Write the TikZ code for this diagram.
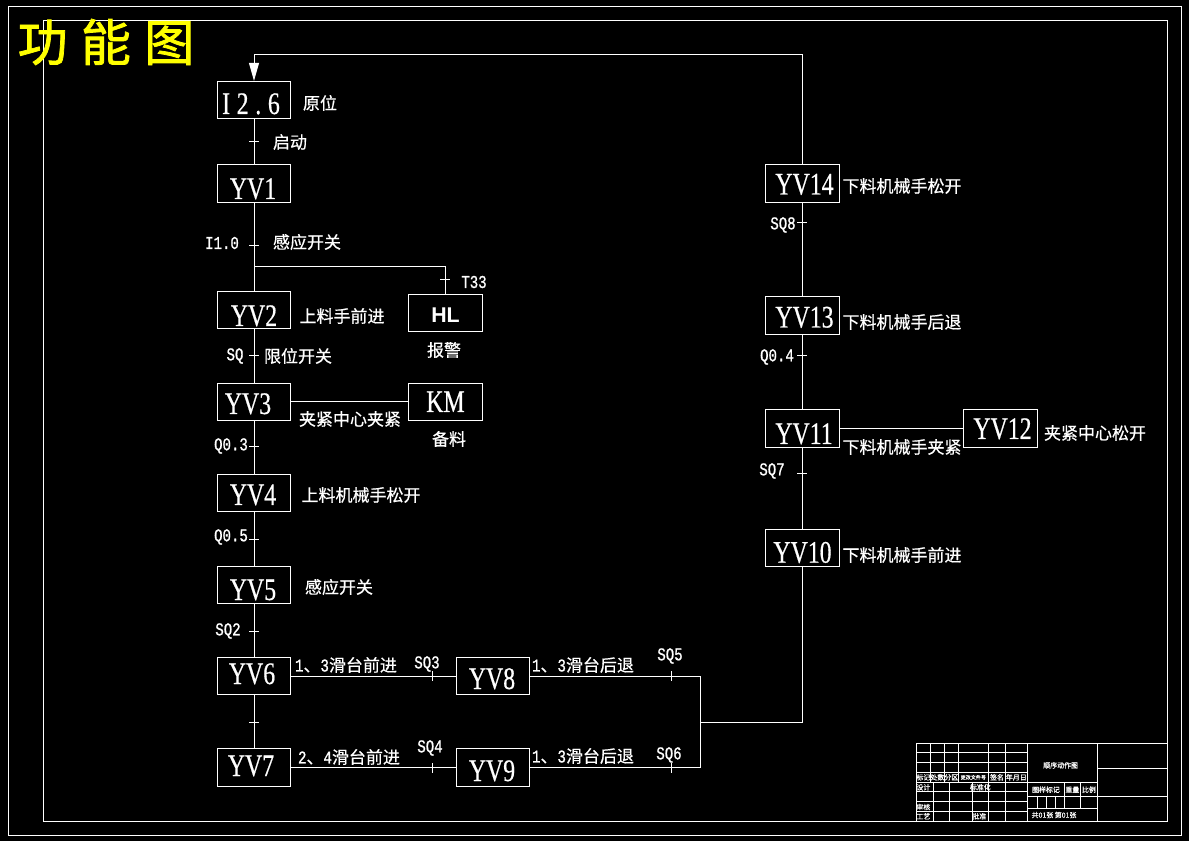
\documentclass[tikz,border=0pt]{standalone}
\usepackage{fontspec}
\usetikzlibrary{arrows.meta}
\setmainfont{Liberation Serif}
\newfontfamily\cjkfont[FakeBold=0.6]{Noto Sans CJK SC}
\newfontfamily\bigfont[FakeBold=1.5]{Noto Sans CJK SC}
\newfontfamily\stepfont[FakeStretch=0.76,FakeBold=0.5]{Liberation Serif}
\newfontfamily\signalfont[FakeStretch=0.78,Scale=1.06,FakeBold=1]{Liberation Mono}
\newfontfamily\lampfont{Liberation Sans}
\definecolor{sheet}{RGB}{0, 0, 0}
\definecolor{titleyellow}{RGB}{255, 255, 0}
\newlength{\px}
\setlength{\px}{0.75pt}
\newcommand{\boxtext}[3]{\raisebox{-#2\px}[0pt][0pt]{\makebox[0pt]{\hspace{#1\px}\hspace{#1\px}#3}}}
\newcommand{\sig}[1]{{\signalfont #1}}
\tikzset{
  wire/.style={draw=white, line width=0.75pt},
  stepbox/.style={rectangle, draw=white, line width=0.75pt, text=white, inner sep=0pt,
    minimum width=55pt, minimum height=28pt, font=\fontsize{23.5}{25}\stepfont},
  note/.style={text=white, inner sep=0pt, font=\fontsize{12.75}{15}\cjkfont},
  signal/.style={text=white, inner sep=0pt, font=\fontsize{12.75}{15}\signalfont},
  tiny/.style={text=white, inner sep=0pt, font=\fontsize{5.2}{6}\cjkfont},
}
\begin{document}
\begin{tikzpicture}[x=0.75pt, y=-0.75pt]
      \useasboundingbox[fill=sheet] (0,0) rectangle (1189,841);

      % Sheet frame
      \draw[wire] (8.5,6.5) rectangle (1181,835);
      \draw[wire] (43.5,20.5) rectangle (1167.5,821);
      \node[text=titleyellow, inner sep=0pt, font=\fontsize{37.5}{40}\bigfont] (title) at (106,42)
        {功\hspace{10pt}能\hspace{10pt}图};

      % Steps
      \foreach \name/\x/\y/\dx/\drop/\txt in {
        i26/254/100/-3/14/I\kern5pt 2\kern5pt .\kern5pt 6,
        yv1/254/183.5/-1/15.5/YV1,
        yv2/254/310/0/16/YV2,
        yv3/254/402/-6/12/YV3,
        yv4/254/493/-1/12/YV4,
        yv5/254/585/-1/15/YV5,
        yv6/254/676/-2/8/YV6,
        yv7/254/767.5/-3/8.5/YV7,
        yv8/493/676/-1/13/YV8,
        yv9/493/767.5/-1/13.5/YV9,
        yv10/802.5/548/0/14.7/YV10,
        yv11/802.5/428.5/1.5/15.5/YV11,
        yv12/1000.5/428.5/2/10.5/YV12,
        yv13/802.5/315.5/2/12/YV13,
        yv14/802.5/183.5/2/11/YV14,
        km/445.5/402/0/10/KM} {
        \node[stepbox] (\name) at (\x,\y) {\boxtext{\dx}{\drop}{\txt}};
      }
      \node[stepbox, font=\fontsize{16}{18}\lampfont\bfseries] (hl) at (445.5,313) {\boxtext{0}{10}{HL}};

      % Main chain
      \foreach \a/\b in {i26/yv1, yv1/yv2, yv2/yv3, yv3/yv4, yv4/yv5, yv5/yv6, yv6/yv7,
        yv6/yv8, yv7/yv9, yv3/km, yv11/yv12, yv10/yv11, yv11/yv13, yv13/yv14} {
        \draw[wire] (\a) -- (\b);
      }

      % Branch to the lamp
      \coordinate (branch) at (254,267);
      \draw[wire] (branch) -| (hl.north);

      % Return path
      \coordinate (upperjoin) at (700,676);
      \coordinate (lowerjoin) at (700,767.5);
      \coordinate (midjoin) at (700,722);
      \coordinate (backjoin) at (802.5,722);
      \coordinate (topright) at (802.5,55);
      \coordinate (topleft) at (254,55);
      \draw[wire] (yv8) -- (upperjoin) -- (lowerjoin) -- (yv9);
      \draw[wire] (midjoin) -- (backjoin) -- (yv10);
      \draw[wire, -{Triangle[length=13.5pt, width=7.5pt, fill=white]}] (yv14) -- (topright) -- (topleft) -- (i26);

      % Ticks
      \foreach \x/\y in {254/142, 254/246, 445/280, 254/356, 254/447, 254/539, 254/631, 254/722,
        802/223, 802/356, 802/474} {
        \draw[wire] (\x - 5, \y) -- (\x + 5, \y);
      }
      \foreach \x/\y in {432/676, 671/676, 432/768, 671/768} {
        \draw[wire] (\x, \y - 5) -- (\x, \y + 5);
      }

      % Notes
      \node[note] (n1) at (320,103) {原位};
      \node[note] (n2) at (290,142) {启动};
      \node[note] (n3) at (307,242) {感应开关};
      \node[note] (n4) at (342,316) {上料手前进};
      \node[note] (n5) at (444,350) {报警};
      \node[note] (n6) at (298,356) {限位开关};
      \node[note] (n7) at (350,419) {夹紧中心夹紧};
      \node[note] (n8) at (449,439) {备料};
      \node[note] (n9) at (361,495) {上料机械手松开};
      \node[note] (n10) at (339,587) {感应开关};
      \node[note] (n11) at (346,665) {\sig{1}、\sig{3}滑台前进};
      \node[note] (n12) at (583,665) {\sig{1}、\sig{3}滑台后退};
      \node[note] (n13) at (349,757) {\sig{2}、\sig{4}滑台前进};
      \node[note] (n14) at (583,756) {\sig{1}、\sig{3}滑台后退};
      \node[note] (n15) at (902,186) {下料机械手松开};
      \node[note] (n16) at (902,322) {下料机械手后退};
      \node[note] (n17) at (902,447) {下料机械手夹紧};
      \node[note] (n18) at (1095,433) {夹紧中心松开};
      \node[note] (n19) at (902,555) {下料机械手前进};

      % Signals
      \foreach \name/\x/\y/\txt in {
        s1/222/243/I1.0, s2/474/282/T33, s3/235/356/SQ, s4/231/446/Q0.3, s5/231/537/Q0.5,
        s6/228/631/SQ2, s7/427/664/SQ3, s8/670/656/SQ5, s9/430/748/SQ4, s10/669/755/SQ6,
        s11/783/225/SQ8, s12/777/357/Q0.4, s13/772/471/SQ7} {
        \node[signal] (\name) at (\x,\y) {\txt};
      }

      % Title block
      \begin{scope}[shift={(900,730)}, x=0.25pt, y=-0.25pt]
        \draw[wire] (48,40) rectangle (802,273);
        \draw[wire] (382,40) -- (382,273);
        \draw[wire] (592,40) -- (592,273);
        \foreach \y in {67, 97, 127, 157, 185, 215, 243} {
          \draw[wire] (48,\y) -- (382,\y);
        }
        \foreach \x in {91, 133, 175, 266, 317} {
          \draw[wire] (\x,40) -- (\x,157);
        }
        \foreach \x in {100, 148, 217, 266, 317} {
          \draw[wire] (\x,157) -- (\x,273);
        }
        \draw[wire] (382,157) -- (592,157);
        \draw[wire] (382,199) -- (802,199);
        \draw[wire] (382,235) -- (592,235);
        \draw[wire] (592,115) -- (802,115);
        \foreach \x in {493, 541} {
          \draw[wire] (\x,157) -- (\x,235);
        }
        \foreach \x in {412, 439, 466} {
          \draw[wire] (\x,199) -- (\x,235);
        }
        \foreach \name/\x/\y/\txt in {
          t1/70/142/标记, t2/112/142/处数, t3/154/142/分区,
          t5/291/142/签名, t6/349/142/年月日, t7/70/172/设计, t8/241/172/标准化,
          t9/70/231/审核, t10/70/259/工艺, t11/238/259/批准, t12/438/179/图样标记,
          t13/517/179/重量, t14/567/179/比例, t15/462/255/共01张 第01张, t16/482/106/顺序动作图} {
          \node[tiny] (\name) at (\x,\y) {\txt};
        }
        \node[tiny, font=\fontsize{3.8}{5}\cjkfont] (t4) at (220,142) {更改文件号};
      \end{scope}
\end{tikzpicture}
\end{document}
